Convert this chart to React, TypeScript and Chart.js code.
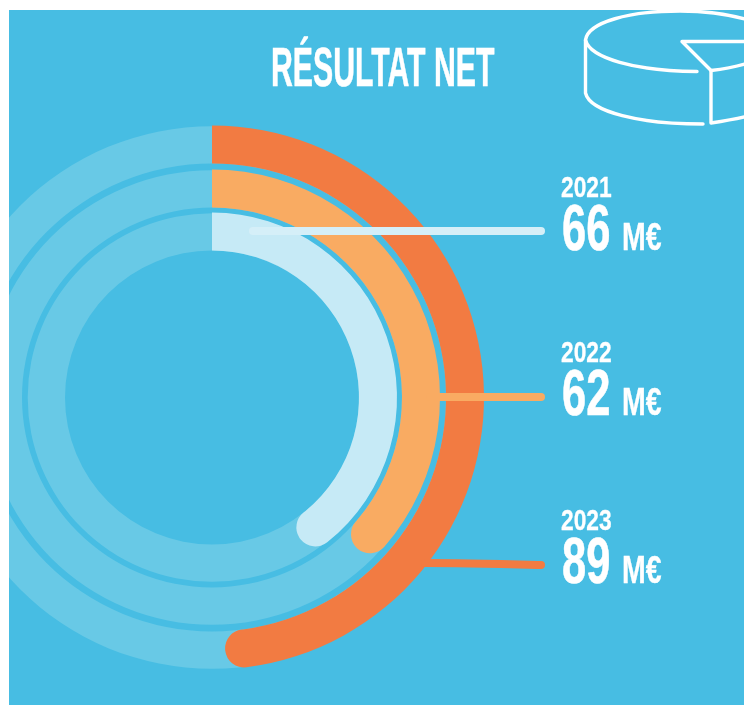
import React, { useEffect, useRef } from "react";
import { Chart, registerables } from "chart.js";

Chart.register(...registerables);

const titleText = "RÉSULTAT NET";
const years = ["2021", "2022", "2023"];
const amounts = [66, 62, 89];
const unit = "M€";
// part of each ring left empty after the value (read from the sweep of each arc)
const remainders = [94.5, 102, 92];
const fillColors = ["#c6eaf6", "#f9ab62", "#f27b42"];
const leaderColors = ["#d5eff8", "#f9ab62", "#f27b42"];

const BG = "#47bde3";
const TRACK = "#68c9e6";
const RING_WEIGHT = 38;
const CAP = 19;

const FONT = "'Liberation Sans', sans-serif";

type TextProps = { x: number; base: number; size: number; sx: number; stroke?: number; children: React.ReactNode };
function Label({ x, base, size, sx, stroke = 0.6, children }: TextProps) {
  return (
    <div
      style={{
        position: "absolute",
        left: x,
        top: base - 0.8465 * size,
        fontFamily: FONT,
        fontWeight: 700,
        fontSize: size,
        lineHeight: 1,
        color: "#fff",
        whiteSpace: "nowrap",
        transform: `scaleX(${sx})`,
        transformOrigin: "left center",
        WebkitTextStroke: `${stroke}px #fff`,
      }}
    >
      {children}
    </div>
  );
}

const trackPlugin = {
  id: "ringTracks",
  beforeDatasetsDraw(chart: any) {
    const { ctx } = chart;
    chart.data.datasets.forEach((ds: any, i: number) => {
      if (ds.spacer) return;
      const arc = chart.getDatasetMeta(i).data[0] as any;
      ctx.save();
      ctx.beginPath();
      ctx.arc(arc.x, arc.y, arc.outerRadius - 0.7, 0, Math.PI * 2);
      ctx.arc(arc.x, arc.y, arc.innerRadius, Math.PI * 2, 0, true);
      ctx.closePath();
      ctx.fillStyle = TRACK;
      ctx.fill();
      ctx.restore();
    });
  },
};

function ring(i: number) {
  return {
    label: years[i],
    data: [amounts[i], remainders[i]],
    weight: RING_WEIGHT,
    backgroundColor: [fillColors[i], "rgba(0,0,0,0)"],
    borderWidth: 0,
    borderRadius: (c: any) =>
      c.dataIndex === 0 ? { outerStart: 0, innerStart: 0, outerEnd: CAP, innerEnd: CAP } : 0,
  };
}
const spacer = (weight: number): any => ({ data: [0, 0], weight, spacer: true, borderWidth: 0 });

export default function App() {
  const ref = useRef<HTMLCanvasElement>(null);
  useEffect(() => {
    const chart = new Chart(ref.current!, {
      type: "doughnut",
      data: {
        labels: ["value", "rest"],
        datasets: [ring(2), spacer(6), ring(1), spacer(5), ring(0)] as any,
      },
      options: {
        responsive: false,
        animation: false,
        cutout: 147,
        radius: "100%",
        layout: { padding: { left: 0, right: 260, top: 125.5, bottom: 35.5 } },
        plugins: { legend: { display: false }, tooltip: { enabled: false }, title: { display: false } },
      },
      plugins: [trackPlugin],
    } as any);
    return () => chart.destroy();
  }, []);

  const rowY = [0, 165, 333];
  return (
    <div style={{ position: "absolute", left: 9, top: 10, width: 735, height: 695, overflow: "hidden", background: BG }}>
      <div style={{ position: "absolute", left: -9, top: -10, width: 744, height: 705 }}>
        <canvas ref={ref} width={804} height={705} style={{ position: "absolute", left: -60, top: 0, width: 804, height: 705 }} />
        <svg width={744} height={705} viewBox="0 0 744 705" style={{ position: "absolute", left: 0, top: 0 }} fill="none">
          <g strokeLinecap="round" strokeWidth={8}>
            <path d="M253 231 L541 231" stroke={leaderColors[0]} />
            <path d="M430 397 L541 397" stroke={leaderColors[1]} />
            <path d="M425 563 C460 563 500 564 541 565" stroke={leaderColors[2]} />
          </g>
          <g stroke="#fff" strokeWidth={3.4} strokeLinecap="round" strokeLinejoin="round">
            <path d="M697 71.5 C635 71 590 58 585.5 40 C588 22 630 11 680 11 C705 11 728 14 748 20" />
            <path d="M585.5 40 L585.5 93 C590 112 640 124 703 124" />
            <path d="M748 41.5 L682 41.5 L711 70.5 C723 69 735 67 748 63" />
            <path d="M711 70.5 L711 123 C723 121 735 119 748 116" />
          </g>
        </svg>
        <Label x={271} base={87} size={55} sx={0.55}>{titleText}</Label>
        {years.map((y, i) => (
          <React.Fragment key={y}>
            <Label x={561} base={197 + rowY[i]} size={30} sx={0.76} stroke={0.3}>{y}</Label>
            <Label x={562} base={250 + rowY[i]} size={64} sx={0.68}>{amounts[i]}</Label>
            <Label x={622} base={250 + rowY[i]} size={39} sx={0.73} stroke={0.3}>{unit}</Label>
          </React.Fragment>
        ))}
      </div>
    </div>
  );
}
